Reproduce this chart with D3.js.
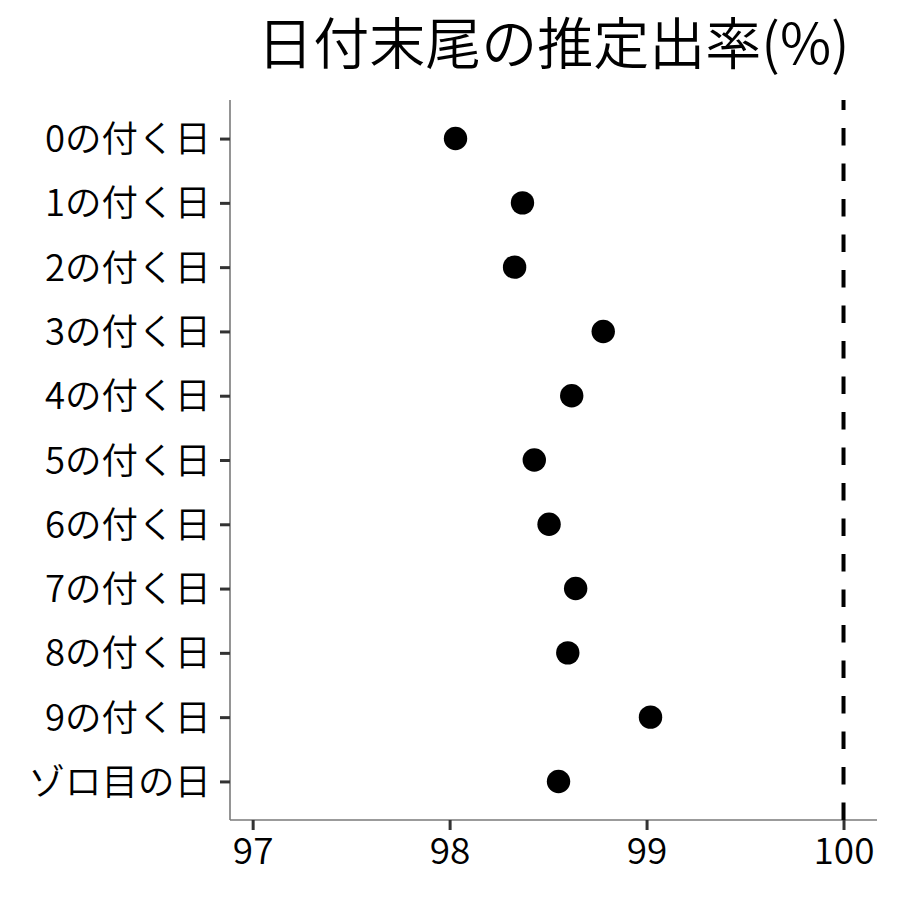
<!DOCTYPE html>
<html>
<head>
<meta charset="utf-8">
<script src="https://cdn.jsdelivr.net/npm/d3@7"></script>
<style>
  body { margin: 0; background: #fff; }
  text { font-family: "Noto Sans CJK JP", "Noto Sans", sans-serif; }
</style>
</head>
<body>
<svg></svg>
<script>
var svgWidth = 900;
var svgHeight = 900;

// data
var categories = ["0の付く日", "1の付く日", "2の付く日", "3の付く日", "4の付く日",
  "5の付く日", "6の付く日", "7の付く日", "8の付く日", "9の付く日", "ゾロ目の日"];
var rates = [98.03, 98.37, 98.33, 98.78, 98.62, 98.43, 98.505, 98.64, 98.60, 99.02, 98.553];
var xTicks = [97, 98, 99, 100];
var refLine = 100;
var title = "日付末尾の推定出率(%)";

var panel = { left: 230, right: 877, top: 100, bottom: 820 };

var svg = d3.select("svg")
  .attr("width", svgWidth)
  .attr("height", svgHeight);

var x = d3.scaleLinear()
  .domain([96.885, 100.17])
  .range([panel.left, panel.right]);

var y = d3.scalePoint()
  .domain(categories)
  .range([panel.top, panel.bottom])
  .padding(0.6);

// x axis
var xAxis = svg.append("g")
  .attr("transform", "translate(0," + panel.bottom + ")")
  .call(d3.axisBottom(x).tickValues(xTicks).tickSize(10).tickPadding(8).tickFormat(d3.format("d")));
xAxis.select(".domain").attr("stroke", "#7a7a7a").attr("stroke-width", 1.6)
  .attr("d", "M" + panel.left + ",0H" + panel.right);
xAxis.selectAll(".tick line").attr("stroke", "#333").attr("stroke-width", 3);
xAxis.selectAll(".tick text").attr("font-size", 37).attr("fill", "#000")
  .attr("font-family", "'Noto Sans CJK JP'").attr("font-weight", 350).attr("dy", "0.7em");

// y axis
var yAxis = svg.append("g")
  .attr("transform", "translate(" + panel.left + ",0)")
  .call(d3.axisLeft(y).tickSize(10).tickPadding(9));
yAxis.select(".domain").attr("stroke", "#7a7a7a").attr("stroke-width", 1.6)
  .attr("d", "M0," + panel.top + "V" + panel.bottom);
yAxis.selectAll(".tick line").attr("stroke", "#333").attr("stroke-width", 3);
yAxis.selectAll(".tick text").attr("font-size", 36.5).attr("fill", "#000")
  .attr("font-family", "'Noto Sans CJK JP'").attr("font-weight", 350).attr("dy", "0.36em");

// reference line at 100
svg.append("line")
  .attr("x1", x(refLine)).attr("x2", x(refLine))
  .attr("y1", panel.bottom).attr("y2", panel.top)
  .attr("stroke", "#000")
  .attr("stroke-width", 4)
  .attr("stroke-dasharray", "17.5,18");

// points
svg.selectAll("circle")
  .data(rates)
  .enter()
  .append("circle")
  .attr("cx", function(d) { return x(d); })
  .attr("cy", function(d, i) { return y(categories[i]); })
  .attr("r", 11.7)
  .attr("fill", "#000");

// title
svg.append("text")
  .attr("x", (panel.left + panel.right) / 2)
  .attr("y", 64)
  .attr("text-anchor", "middle")
  .attr("font-size", 56)
  .attr("font-weight", 350)
  .attr("fill", "#000")
  .text(title);
</script>
</body>
</html>
